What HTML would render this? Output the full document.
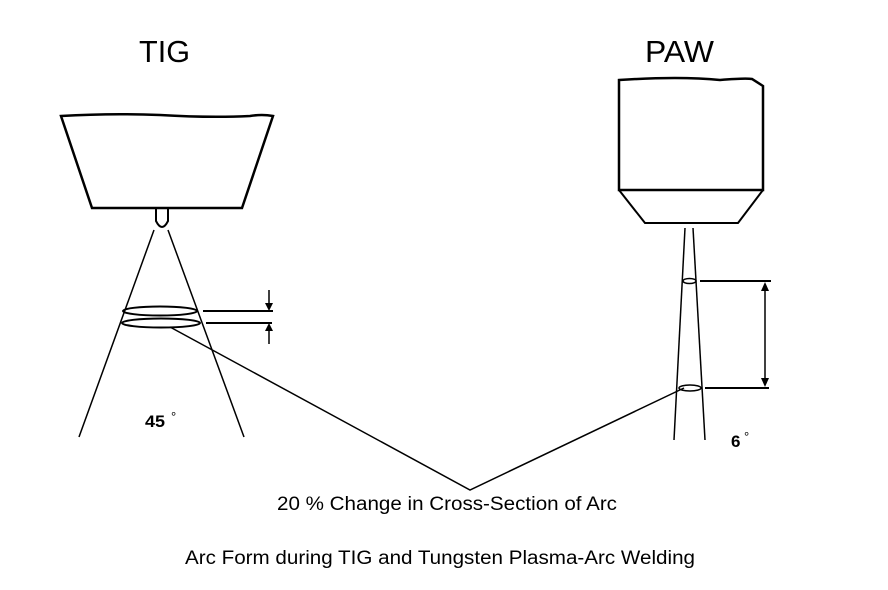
<!DOCTYPE html>
<html><head><style>html,body{margin:0;padding:0;background:#fff;}svg{display:block}</style></head>
<body>
<svg width="888" height="590" viewBox="0 0 888 590" xmlns="http://www.w3.org/2000/svg" font-family="Liberation Sans, Arial, sans-serif">
<rect width="888" height="590" fill="#fff"/>
<g fill="none" stroke="#000">
<path d="M61,116 Q110,113 160,115 Q210,118 250,116 Q262,114 273,116 L242,208 L92,208 Z" stroke-width="2.5"/>
<path d="M156,208 L156,221 Q162,233 168,221 L168,208" stroke-width="2"/>
<line x1="154" y1="230" x2="79" y2="437" stroke-width="1.5"/>
<line x1="168" y1="230" x2="244" y2="437" stroke-width="1.5"/>
<ellipse cx="160" cy="311" rx="37" ry="4.5" stroke-width="2"/>
<ellipse cx="161" cy="323" rx="39" ry="4.5" stroke-width="2"/>
<line x1="203" y1="311" x2="273" y2="311" stroke-width="2"/>
<line x1="206" y1="323" x2="272" y2="323" stroke-width="2"/>
<line x1="269" y1="290" x2="269" y2="304" stroke-width="1.5"/>
<line x1="269" y1="330" x2="269" y2="344" stroke-width="1.5"/>
<path d="M619,80 Q680,76 720,80 Q745,78 752,79 L763,86 L763,190 L619,190 Z" stroke-width="2.5"/>
<path d="M619,190 L645,223 L738,223 L763,190" stroke-width="2"/>
<line x1="685" y1="228" x2="674" y2="440" stroke-width="1.5"/>
<line x1="693" y1="228" x2="705" y2="440" stroke-width="1.5"/>
<ellipse cx="689.5" cy="281" rx="6.5" ry="2.5" stroke-width="1.5"/>
<ellipse cx="690" cy="388" rx="11" ry="3" stroke-width="1.5"/>
<line x1="700" y1="281" x2="771" y2="281" stroke-width="2"/>
<line x1="705" y1="388" x2="769" y2="388" stroke-width="2"/>
<line x1="765" y1="290" x2="765" y2="379" stroke-width="1.5"/>
<polyline points="170,327 470,490 684,388" stroke-width="1.5"/>
</g>
<g fill="#000">
<polygon points="265,303 273,303 269,311"/>
<polygon points="265,331 273,331 269,323"/>
<polygon points="761,291 769,291 765,282"/>
<polygon points="761,378 769,378 765,387"/>
</g>
<text x="139" y="62" font-size="31" textLength="51" lengthAdjust="spacingAndGlyphs">TIG</text>
<text x="645" y="62" font-size="31" textLength="69" lengthAdjust="spacingAndGlyphs">PAW</text>
<text x="145" y="427" font-size="17" font-weight="bold" textLength="20" lengthAdjust="spacingAndGlyphs">45</text>
<text x="171" y="421" font-size="13">°</text>
<text x="731" y="447" font-size="17" font-weight="bold">6</text>
<text x="744" y="441" font-size="13">°</text>
<text x="277" y="510" font-size="19" textLength="340" lengthAdjust="spacingAndGlyphs">20 % Change in Cross-Section of Arc</text>
<text x="185" y="564" font-size="19" textLength="510" lengthAdjust="spacingAndGlyphs">Arc Form during TIG and Tungsten Plasma-Arc Welding</text>
</svg>
</body></html>
